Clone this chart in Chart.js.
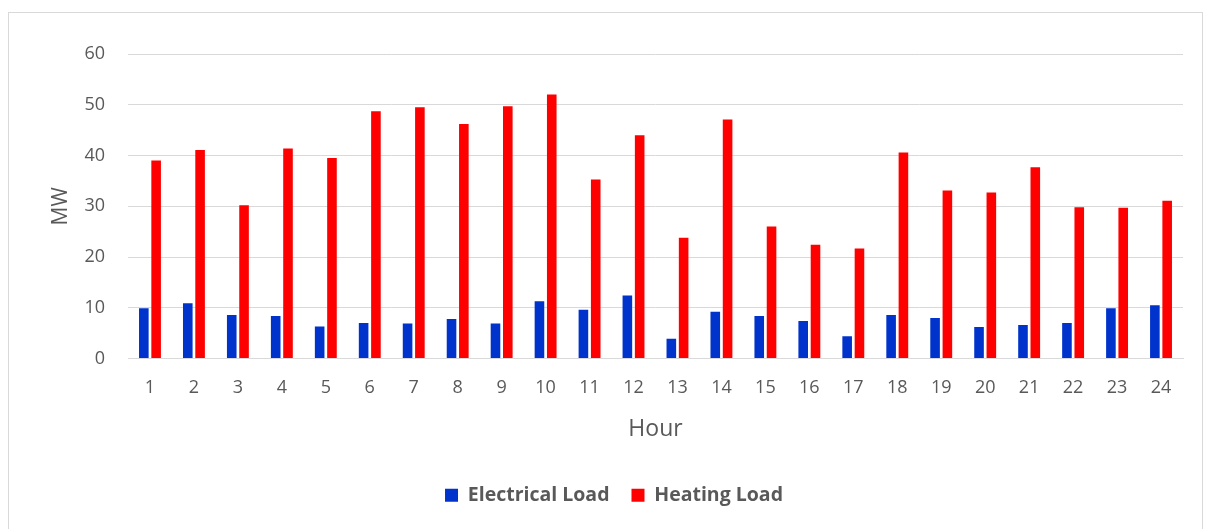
<!DOCTYPE html>
<html>
<head>
<meta charset="utf-8">
<script src="https://cdn.jsdelivr.net/npm/chart.js@4.4.0/dist/chart.umd.min.js"></script>
<style>
html,body{margin:0;padding:0;background:#fff;}
#wrap{position:relative;width:1210px;height:529px;}
</style>
</head>
<body>
<div id="wrap"><canvas id="c" width="1210" height="529"></canvas></div>
<script>
const hours = ['1','2','3','4','5','6','7','8','9','10','11','12','13','14','15','16','17','18','19','20','21','22','23','24'];
const electricalLoad = [9.9,10.9,8.6,8.4,6.3,7.0,6.9,7.8,6.9,11.3,9.6,12.4,3.9,9.2,8.4,7.4,4.4,8.6,8.0,6.2,6.6,7.0,9.9,10.5];
const heatingLoad = [39.0,41.1,30.2,41.4,39.5,48.7,49.5,46.2,49.7,52.0,35.3,44.0,23.8,47.1,26.0,22.4,21.7,40.6,33.1,32.7,37.7,29.8,29.7,31.1];
const yTicks = [0,10,20,30,40,50,60];

const FONT = '"Open Sans", Lato, sans-serif';
const TXT = '#595959';

const frame = {
  id: 'frame',
  beforeDraw(chart) {
    const ctx = chart.ctx;
    ctx.save();
    ctx.fillStyle = '#fff';
    ctx.fillRect(0, 0, chart.width, chart.height);
    ctx.strokeStyle = '#d9d9d9';
    ctx.lineWidth = 1;
    ctx.strokeRect(8.5, 12.5, 1194, 530);
    ctx.restore();
  }
};

new Chart(document.getElementById('c'), {
  type: 'bar',
  data: {
    labels: hours,
    datasets: [
      { label: 'Electrical Load', data: electricalLoad, backgroundColor: '#0033CC', borderWidth: 0 },
      { label: 'Heating Load', data: heatingLoad, backgroundColor: '#FF0000', borderWidth: 0 }
    ]
  },
  options: {
    responsive: false,
    animation: false,
    events: [],
    categoryPercentage: 0.56,
    barPercentage: 0.78,
    layout: { padding: { top: 54, right: 27, left: 45, bottom: 14 } },
    plugins: {
      tooltip: { enabled: false },
      legend: {
        position: 'bottom',
        labels: {
          color: TXT,
          font: { family: FONT, size: 19.5, weight: 'bold' },
          boxWidth: 13, boxHeight: 13, padding: 22
        }
      }
    },
    scales: {
      x: {
        grid: { display: false, drawTicks: false },
        border: { display: true, color: '#d9d9d9', width: 1 },
        ticks: { color: TXT, font: { family: FONT, size: 18, lineHeight: 1.08 }, padding: 20, maxRotation: 0 },
        title: { display: true, text: 'Hour', color: TXT, font: { family: FONT, size: 23, lineHeight: 1.0 }, padding: { top: 0, bottom: 22.5 } }
      },
      y: {
        min: 0, max: 60,
        afterBuildTicks(scale) { scale.ticks = yTicks.map(v => ({ value: v })); },
        afterFit(scale) { scale.width = 83; },
        grid: { color: '#d9d9d9', lineWidth: 1, drawTicks: false },
        border: { display: false },
        ticks: { color: TXT, font: { family: FONT, size: 18 }, padding: 23 },
        title: { display: true, text: 'MW', color: TXT, font: { family: FONT, size: 21 }, padding: { top: 3, bottom: 0 } }
      }
    }
  },
  plugins: [frame]
});
</script>
</body>
</html>
